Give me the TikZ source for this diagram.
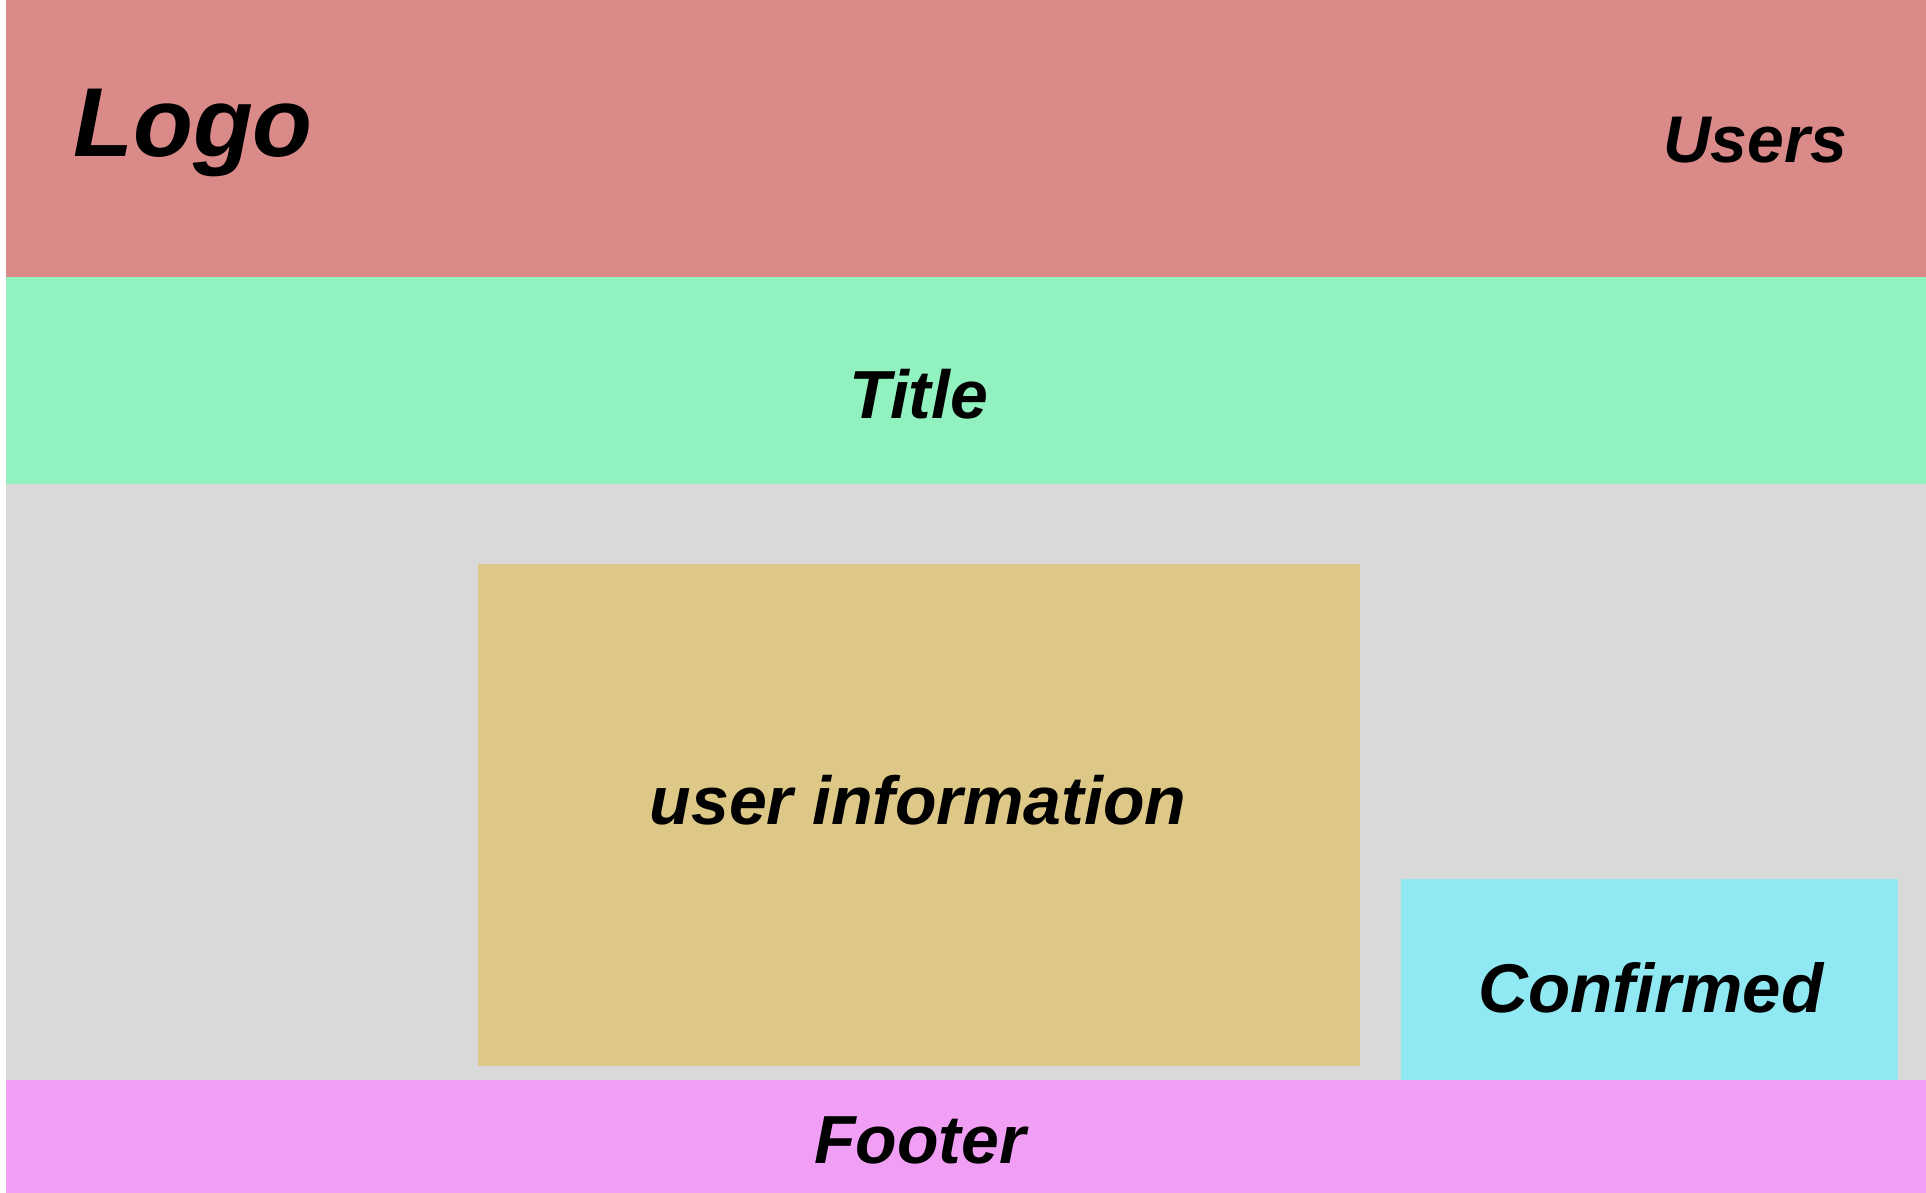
\documentclass[tikz,border=0pt]{standalone}
\usepackage{fontspec}
\setmainfont{Liberation Sans}
\definecolor{hdr}{RGB}{219,138,138}
\definecolor{ttl}{RGB}{145,242,191}
\definecolor{bodyg}{RGB}{217,217,217}
\definecolor{info}{RGB}{221,200,135}
\definecolor{conf}{RGB}{143,232,242}
\definecolor{foot}{RGB}{240,159,245}
\tikzset{
  lbl/.style={anchor=base, inner sep=0pt, font=\bfseries\itshape\fontsize{#1}{#1}\selectfont},
  lbl/.default=65
}
\begin{document}
\begin{tikzpicture}[x=1pt,y=-1pt]
\useasboundingbox (0,0) rectangle (1926,1193);
\fill[white] (0,0) rectangle (1926,1193);
\fill[hdr] (6,0) rectangle (1926,277);
\fill[ttl] (6,277) rectangle (1926,484);
\fill[bodyg] (6,484) rectangle (1926,1080);
\fill[info] (478,564) rectangle (1360,1066);
\fill[conf] (1401,879) rectangle (1898,1080);
\fill[foot] (6,1080) rectangle (1926,1193);
\node[lbl=98] (logo) at (193,157) {Logo};
\node[lbl=66] (users) at (1755,163) {Users};
\node[lbl=68] (title) at (919,418) {Title};
\node[lbl=68] (uinfo) at (918,824) {user information};
\node[lbl=69] (confirmed) at (1651,1012) {Confirmed};
\node[lbl=68] (footer) at (920,1163) {Footer};
\end{tikzpicture}
\end{document}
